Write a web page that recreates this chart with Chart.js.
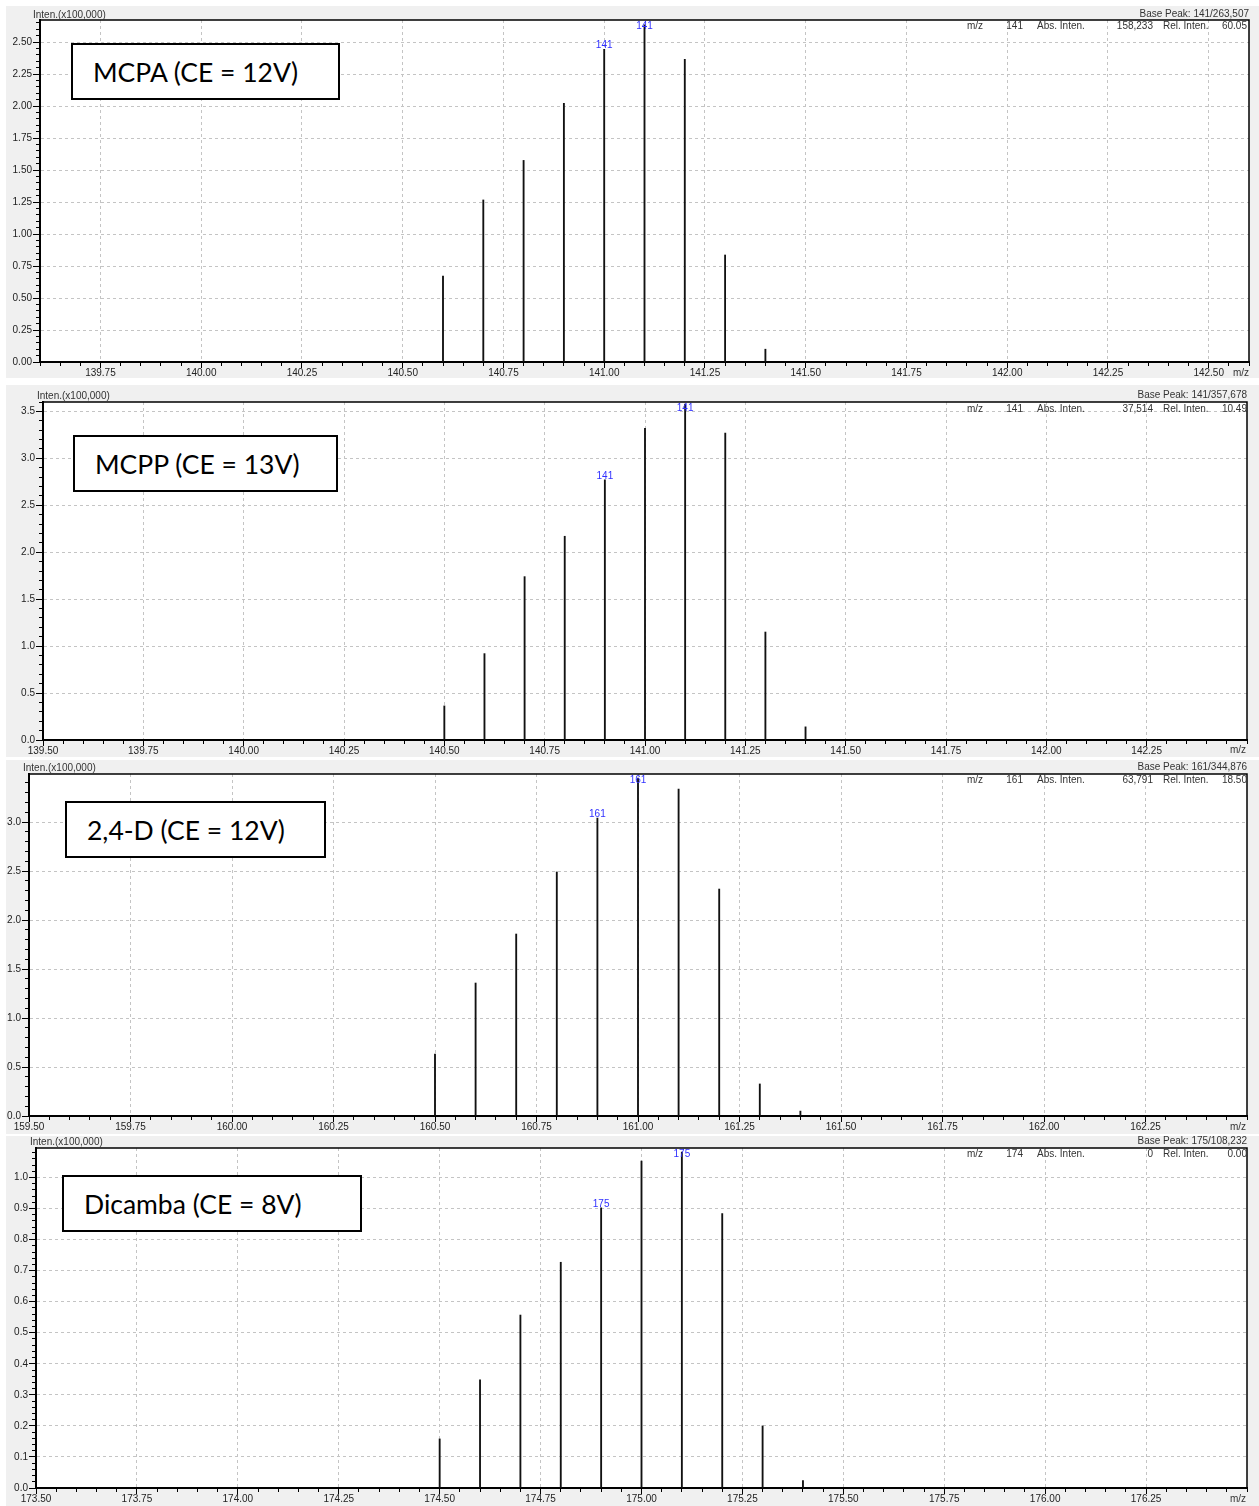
<!DOCTYPE html>
<html>
<head>
<meta charset="utf-8">
<script src="https://cdn.jsdelivr.net/npm/chart.js@4.4.1/dist/chart.umd.min.js"></script>
<style>
    body { margin: 0; background: #fff; }
    #page { position: relative; width: 1259px; height: 1506px; overflow: hidden; font-family: 'Liberation Sans', Arial, sans-serif; }
    canvas { position: absolute; background: #f0f0f0; }
    .txt { position: absolute; font-size: 10px; line-height: 12px; color: #333; white-space: nowrap; }
    .box { position: absolute; box-sizing: border-box; background: #fff; border: 2px solid #000; font-family: Lato, 'Open Sans', sans-serif; font-size: 26.5px; color: #000; display: flex; align-items: center; white-space: nowrap; }
</style>
</head>
<body>
<div id="page"></div>
<script>
/* ============================
   Datos (intensidad x100,000)
============================ */
const mcpaMz = [140.6, 140.7, 140.8, 140.9, 141.0, 141.1, 141.2, 141.3, 141.4]
const mcpaInten = [0.672, 1.266, 1.575, 2.02, 2.443, 2.635, 2.365, 0.836, 0.10]
const mcpaXTicks = ['139.75', '140.00', '140.25', '140.50', '140.75', '141.00', '141.25', '141.50', '141.75', '142.00', '142.25', '142.50']
const mcpaYTicks = ['0.00', '0.25', '0.50', '0.75', '1.00', '1.25', '1.50', '1.75', '2.00', '2.25', '2.50']

const mcppMz = [140.5, 140.6, 140.7, 140.8, 140.9, 141.0, 141.1, 141.2, 141.3, 141.4]
const mcppInten = [0.363, 0.92, 1.74, 2.17, 2.77, 3.32, 3.577, 3.27, 1.15, 0.14]
const mcppXTicks = ['139.50', '139.75', '140.00', '140.25', '140.50', '140.75', '141.00', '141.25', '141.50', '141.75', '142.00', '142.25']
const mcppYTicks = ['0.0', '0.5', '1.0', '1.5', '2.0', '2.5', '3.0', '3.5']

const d24Mz = [160.5, 160.6, 160.7, 160.8, 160.9, 161.0, 161.1, 161.2, 161.3, 161.4]
const d24Inten = [0.633, 1.357, 1.857, 2.49, 3.04, 3.449, 3.337, 2.316, 0.327, 0.05]
const d24XTicks = ['159.50', '159.75', '160.00', '160.25', '160.50', '160.75', '161.00', '161.25', '161.50', '161.75', '162.00', '162.25']
const d24YTicks = ['0.0', '0.5', '1.0', '1.5', '2.0', '2.5', '3.0']

const dicMz = [174.5, 174.6, 174.7, 174.8, 174.9, 175.0, 175.1, 175.2, 175.3, 175.4]
const dicInten = [0.158, 0.348, 0.557, 0.727, 0.902, 1.053, 1.082, 0.884, 0.20, 0.024]
const dicXTicks = ['173.50', '173.75', '174.00', '174.25', '174.50', '174.75', '175.00', '175.25', '175.50', '175.75', '176.00', '176.25']
const dicYTicks = ['0.0', '0.1', '0.2', '0.3', '0.4', '0.5', '0.6', '0.7', '0.8', '0.9', '1.0']

const PANELS = [
    {
        title: 'MCPA (CE = 12V)', box: [71, 43, 269, 57],
        mz: mcpaMz, inten: mcpaInten, xTicks: mcpaXTicks, yTicks: mcpaYTicks,
        x: [139.6, 142.6, 0.05], y: [0, 2.672, 0.05],
        gray: [6, 6, 1253, 372], plot: [40, 20, 1249, 362],
        peaks: [4, 5], peakText: '141',
        info: ['141', '158,233', '60.05'], infoY: 26,
        base: 'Base Peak: 141/263,507', baseY: 14, baseX: 1249, intenX: 33, intenY: 15, mzEnd: [1241, 373]
    },
    {
        title: 'MCPP (CE = 13V)', box: [73, 435, 265, 57],
        mz: mcppMz, inten: mcppInten, xTicks: mcppXTicks, yTicks: mcppYTicks,
        x: [139.5, 142.5, 0.05], y: [0, 3.6, 0.1],
        gray: [6, 385, 1253, 372], plot: [43, 402, 1247, 740],
        peaks: [4, 6], peakText: '141',
        info: ['141', '37,514', '10.49'], infoY: 409,
        base: 'Base Peak: 141/357,678', baseY: 395, baseX: 1247, intenX: 37, intenY: 396, mzEnd: [1238, 750]
    },
    {
        title: '2,4-D (CE = 12V)', box: [65, 801, 261, 57],
        mz: d24Mz, inten: d24Inten, xTicks: d24XTicks, yTicks: d24YTicks,
        x: [159.5, 162.5, 0.05], y: [0, 3.49, 0.1],
        gray: [6, 760, 1253, 374], plot: [29, 774, 1247, 1116],
        peaks: [4, 5], peakText: '161',
        info: ['161', '63,791', '18.50'], infoY: 780,
        base: 'Base Peak: 161/344,876', baseY: 767, baseX: 1247, intenX: 23, intenY: 768, mzEnd: [1238, 1127]
    },
    {
        title: 'Dicamba (CE = 8V)', box: [62, 1175, 300, 57],
        mz: dicMz, inten: dicInten, xTicks: dicXTicks, yTicks: dicYTicks,
        x: [173.5, 176.5, 0.05], y: [0, 1.095, 0.02],
        gray: [6, 1136, 1253, 370], plot: [36, 1148, 1247, 1488],
        peaks: [4, 6], peakText: '175',
        info: ['174', '0', '0.00'], infoY: 1154,
        base: 'Base Peak: 175/108,232', baseY: 1141, baseX: 1247, intenX: 30, intenY: 1142, mzEnd: [1238, 1499]
    }
]

const page = document.getElementById('page')

// ============================
// Helpers
// ============================
function buildTicks(min, max, step, majors) {
    const out = []
    const n = Math.floor((max - min) / step + 1e-6)
    for (let i = 0; i <= n; i++) {
        const v = +(min + i * step).toFixed(4)
        const lab = majors.find(m => Math.abs(parseFloat(m) - v) < 1e-6)
        out.push({ value: v, isMajor: lab !== undefined, text: lab || '' })
    }
    return out
}

function addText(str, x, y, align) {
    const el = document.createElement('div')
    el.className = 'txt'
    el.textContent = str
    el.style.top = `${y - 6}px`
    if (align === 'right') el.style.right = `${1259 - x}px`
    else if (align === 'center') { el.style.left = `${x - 50}px`; el.style.width = '100px'; el.style.textAlign = 'center' }
    else el.style.left = `${x}px`
    page.appendChild(el)
}

const plotBgPlugin = {
    id: 'plotBg',
    beforeDraw(chart) {
        const { ctx, chartArea: a } = chart
        ctx.save()
        ctx.fillStyle = '#fff'
        ctx.fillRect(a.left, a.top, a.right - a.left, a.bottom - a.top)
        ctx.restore()
    },
    afterDraw(chart) {
        const { ctx, chartArea: a } = chart
        ctx.save()
        ctx.strokeStyle = '#000'
        ctx.lineWidth = 1.5
        ctx.beginPath()
        ctx.moveTo(a.left, a.top)
        ctx.lineTo(a.right, a.top)
        ctx.lineTo(a.right, a.bottom)
        ctx.stroke()
        ctx.restore()
    }
}

const peakLabelPlugin = {
    id: 'peakLabels',
    afterDatasetsDraw(chart, args, opts) {
        const meta = chart.getDatasetMeta(0)
        const { ctx, chartArea } = chart
        ctx.save()
        ctx.font = '10px "Liberation Sans", Arial, sans-serif'
        ctx.fillStyle = '#3030ff'
        ctx.textAlign = 'center'
        ctx.textBaseline = 'middle'
        opts.peaks.forEach(i => {
            const el = meta.data[i]
            ctx.fillText(opts.text, el.x, Math.max(el.y - 4, chartArea.top + 6))
        })
        ctx.restore()
    }
}

const tickFont = { family: "'Liberation Sans', Arial, sans-serif", size: 10 }
const gridColor = c => (c.tick && c.tick.isMajor ? '#c4c4c4' : 'rgba(0,0,0,0)')

// ============================
// Paneles
// ============================
PANELS.forEach(p => {
    const [gl, gt, gw, gh] = p.gray
    const [pl, pt, pr, pb] = p.plot

    const canvas = document.createElement('canvas')
    canvas.width = gw
    canvas.height = gh
    canvas.style.left = `${gl}px`
    canvas.style.top = `${gt}px`
    page.appendChild(canvas)

    new Chart(canvas.getContext('2d'), {
        type: 'bar',
        data: {
            datasets: [{
                data: p.mz.map((x, i) => ({ x, y: p.inten[i] })),
                backgroundColor: '#111',
                borderWidth: 0,
                barThickness: 1.2,
                grouped: false
            }]
        },
        options: {
            responsive: false,
            animation: false,
            devicePixelRatio: 1,
            events: [],
            layout: { padding: { top: pt - gt, right: gl + gw - pr, left: 0, bottom: 0 } },
            plugins: {
                legend: { display: false },
                tooltip: { enabled: false },
                peakLabels: { peaks: p.peaks, text: p.peakText }
            },
            scales: {
                x: {
                    type: 'linear', min: p.x[0], max: p.x[1], offset: false,
                    grid: {
                        offset: false, color: gridColor, lineWidth: 1,
                        tickLength: 6, tickColor: '#000', tickWidth: 1,
                        tickBorderDash: c => (c.tick && c.tick.isMajor ? [] : [3, 20])
                    },
                    border: { color: '#000', width: 2, dash: [3, 3] },
                    ticks: {
                        autoSkip: false, maxRotation: 0, minRotation: 0, padding: -1,
                        color: '#222', font: tickFont,
                        callback: (v, i, ticks) => ticks[i].text
                    },
                    afterBuildTicks: s => { s.ticks = buildTicks(p.x[0], p.x[1], p.x[2], p.xTicks) },
                    afterFit: s => { s.height = gt + gh - pb }
                },
                y: {
                    type: 'linear', min: p.y[0], max: p.y[1],
                    grid: {
                        color: gridColor, lineWidth: 1,
                        tickLength: 7, tickColor: '#000', tickWidth: 1,
                        tickBorderDash: c => (c.tick && c.tick.isMajor ? [] : [0, 3, 4, 20])
                    },
                    border: { color: '#000', width: 2, dash: [3, 3] },
                    ticks: {
                        autoSkip: false, padding: 1, color: '#222', font: tickFont,
                        callback: (v, i, ticks) => ticks[i].text
                    },
                    afterBuildTicks: s => { s.ticks = buildTicks(p.y[0], p.y[1], p.y[2], p.yTicks) },
                    afterFit: s => { s.width = pl - gl }
                }
            }
        },
        plugins: [plotBgPlugin, peakLabelPlugin]
    })

    // textos del software
    addText('Inten.(x100,000)', p.intenX, p.intenY)
    addText(p.base, p.baseX, p.baseY, 'right')
    addText('m/z', 975, p.infoY, 'center')
    addText(p.info[0], 1023, p.infoY, 'right')
    addText('Abs. Inten.', 1037, p.infoY)
    addText(p.info[1], 1153, p.infoY, 'right')
    addText('Rel. Inten.', 1163, p.infoY)
    addText(p.info[2], 1247, p.infoY, 'right')
    addText('m/z', p.mzEnd[0], p.mzEnd[1], 'center')

    const box = document.createElement('div')
    box.className = 'box'
    box.style.left = `${p.box[0]}px`
    box.style.top = `${p.box[1]}px`
    box.style.width = `${p.box[2]}px`
    box.style.height = `${p.box[3]}px`
    box.style.paddingLeft = '20px'
    box.textContent = p.title
    page.appendChild(box)
})
</script>
</body>
</html>
